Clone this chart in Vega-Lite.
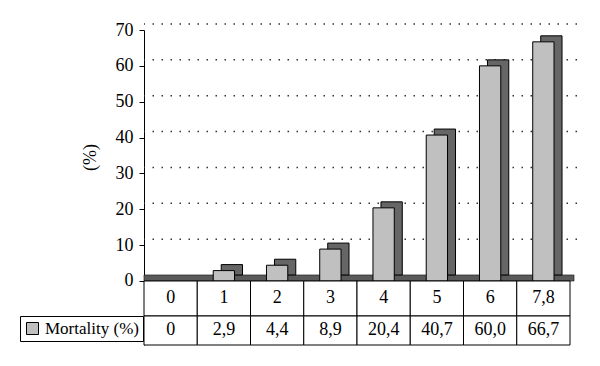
{
  "$schema": "https://vega.github.io/schema/vega-lite/v6.json",
  "width": 426,
  "height": 315,
  "autosize": {"type": "none"},
  "padding": {"left": 144, "top": 30, "right": 30, "bottom": 21},
  "background": "white",
  "config": {"view": {"stroke": null}, "font": "Liberation Serif"},
  "datasets": {
    "mortality": [
      {"group": "0", "value": 0, "label": "0", "series": "Mortality (%)"},
      {"group": "1", "value": 2.9, "label": "2,9", "series": "Mortality (%)"},
      {"group": "2", "value": 4.4, "label": "4,4", "series": "Mortality (%)"},
      {"group": "3", "value": 8.9, "label": "8,9", "series": "Mortality (%)"},
      {"group": "4", "value": 20.4, "label": "20,4", "series": "Mortality (%)"},
      {"group": "5", "value": 40.7, "label": "40,7", "series": "Mortality (%)"},
      {"group": "6", "value": 60.0, "label": "60,0", "series": "Mortality (%)"},
      {"group": "7,8", "value": 66.7, "label": "66,7", "series": "Mortality (%)"}
    ],
    "grid": [{"g": 10}, {"g": 20}, {"g": 30}, {"g": 40}, {"g": 50}, {"g": 60}, {"g": 70}]
  },
  "data": {"name": "mortality"},
  "layer": [
    {
      "data": {"name": "grid"},
      "mark": {"type": "rule", "strokeDash": [1.5, 7.5], "color": "#333333", "strokeWidth": 1.5, "yOffset": -6, "xOffset": 7, "x2Offset": 7},
      "encoding": {
        "y": {"field": "g", "type": "quantitative", "scale": {"domain": [-17.85, 70], "nice": false, "zero": false},
          "axis": {"title": "(%)", "values": [0, 10, 20, 30, 40, 50, 60, 70], "grid": false, "tickSize": 5, "tickColor": "black", "domainColor": "black", "labelFontSize": 18, "labelColor": "black", "labelPadding": 6, "labelFont": "Liberation Serif", "titleFont": "Liberation Serif", "titleFontSize": 18, "titleFontWeight": "normal", "titleColor": "black", "titleX": -45, "titleY": 127, "titleBaseline": "bottom", "titleAlign": "center"}}
      }
    },
    {
      "data": {"values": [{"floor": 0}]},
      "mark": {"type": "rect", "color": "#5a5a5a", "stroke": "#222222", "strokeWidth": 0.7, "xOffset": 4, "x2Offset": 4, "y2Offset": -6},
      "encoding": {
        "y": {"field": "floor", "type": "quantitative"},
        "y2": {"field": "floor"}
      }
    },
    {
      "transform": [{"filter": "datum.value > 0"}],
      "mark": {"type": "bar", "fill": "#666666", "stroke": "black", "strokeWidth": 1, "xOffset": 8, "yOffset": -6, "y2Offset": -6, "width": {"band": 0.4}},
      "encoding": {
        "x": {"field": "group", "type": "nominal", "sort": null, "scale": {"domain": ["0", "1", "2", "3", "4", "5", "6", "7,8"], "paddingInner": 0, "paddingOuter": 0}, "axis": null},
        "y": {"field": "value", "type": "quantitative"},
        "y2": {"datum": 0}
      }
    },
    {
      "transform": [{"filter": "datum.value > 0"}],
      "mark": {"type": "bar", "stroke": "black", "strokeWidth": 1, "width": {"band": 0.4}},
      "encoding": {
        "x": {"field": "group", "type": "nominal", "sort": null},
        "y": {"field": "value", "type": "quantitative"},
        "y2": {"datum": 0},
        "color": {"field": "series", "type": "nominal", "scale": {"range": ["#c0c0c0"]},
          "legend": {"orient": "none", "legendX": -124, "legendY": 286, "title": null, "symbolType": "square", "symbolSize": 144, "symbolStrokeColor": "black", "symbolStrokeWidth": 1, "symbolFillColor": "#c0c0c0", "labelFont": "Liberation Serif", "labelFontSize": 17, "labelColor": "black", "labelOffset": 4, "padding": 4, "strokeColor": "black", "labelLimit": 300}}
      }
    },
    {
      "mark": {"type": "rect", "fill": "white", "stroke": "black", "strokeWidth": 1},
      "encoding": {
        "x": {"field": "group", "type": "nominal", "sort": null},
        "y": {"datum": 0, "type": "quantitative"},
        "y2": {"datum": -9.76}
      }
    },
    {
      "mark": {"type": "rect", "fill": "white", "stroke": "black", "strokeWidth": 1},
      "encoding": {
        "x": {"field": "group", "type": "nominal", "sort": null},
        "y": {"datum": -9.76, "type": "quantitative"},
        "y2": {"datum": -17.85}
      }
    },
    {
      "mark": {"type": "text", "font": "Liberation Serif", "fontSize": 18, "color": "black", "baseline": "middle"},
      "encoding": {
        "x": {"field": "group", "type": "nominal", "sort": null},
        "y": {"datum": -4.88, "type": "quantitative"},
        "text": {"field": "group"}
      }
    },
    {
      "mark": {"type": "text", "font": "Liberation Serif", "fontSize": 18, "color": "black", "baseline": "middle"},
      "encoding": {
        "x": {"field": "group", "type": "nominal", "sort": null},
        "y": {"datum": -13.8, "type": "quantitative"},
        "text": {"field": "label"}
      }
    }
  ]
}
